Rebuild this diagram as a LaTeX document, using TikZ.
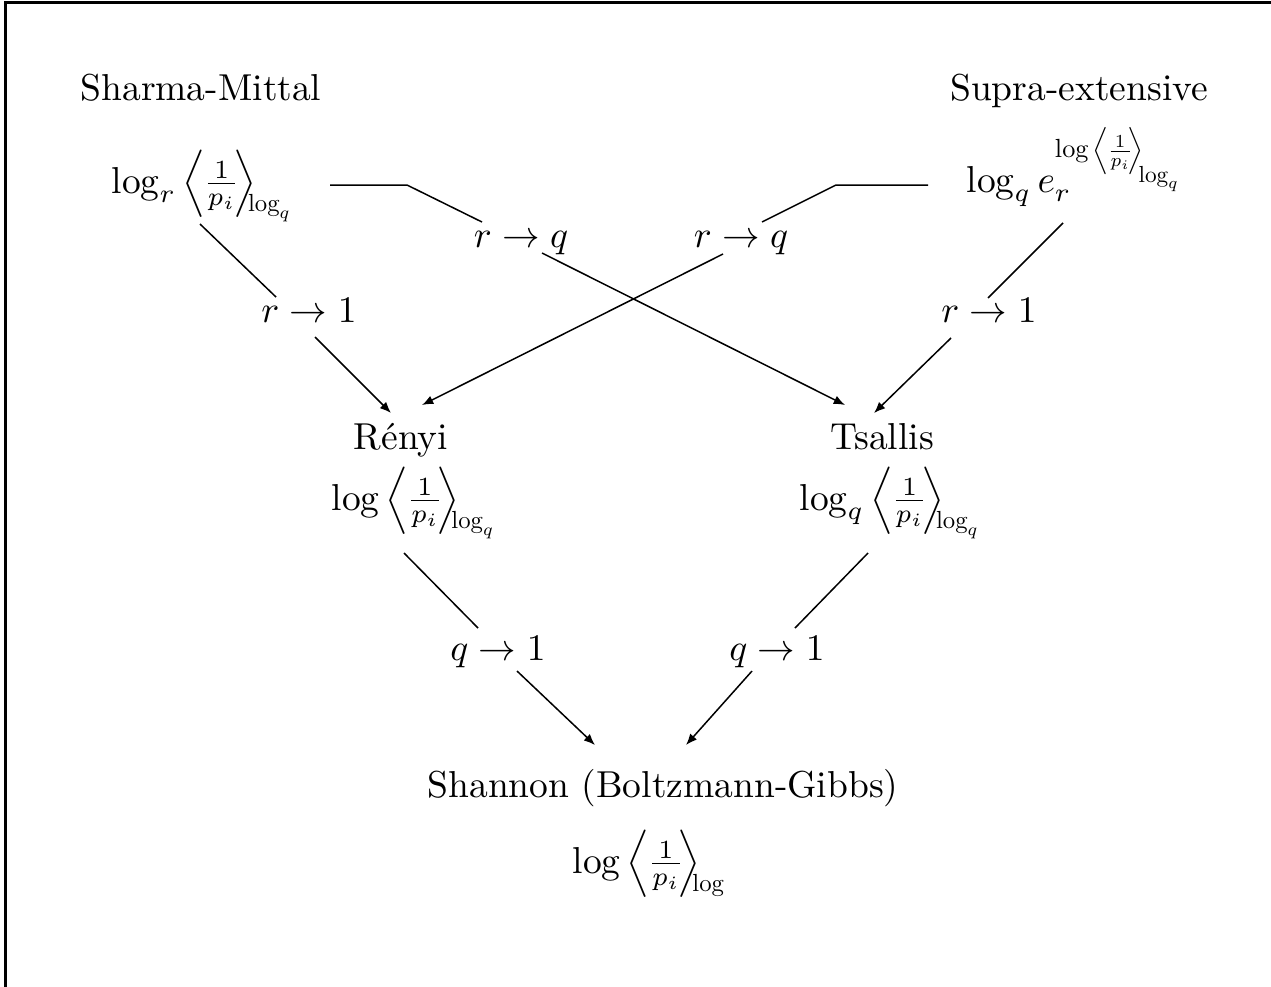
\documentclass[tikz,border=0pt]{standalone}
\usepackage{fontspec}
\usepackage{graphicx}
\usetikzlibrary{arrows.meta}
\newcommand{\frc}{\frac{1}{p_i}}
\newcommand{\avgT}[1]{\left\langle\mkern-1mu \frc \mkern-3mu\right\rangle\mkern-7mu\lower5pt\hbox{\scalebox{0.66}{$#1$}}}
\newcommand{\supx}{\scalebox{0.7}{$\log\left\langle\mkern-1mu\frc\mkern-4mu\right\rangle$}\kern-1.2pt\lower6.5pt\hbox{\scalebox{0.62}{$\log_q$}}}
\begin{document}
\begin{tikzpicture}[x=0.26667pt,y=-0.26667pt,
  txt/.style={anchor=base,inner sep=0pt},
  fml/.style={anchor=base west,inner sep=0pt},
  conn/.style={line width=0.4pt},
  arr/.style={conn,-{Latex[length=3pt,width=2.4pt]}},
  frameline/.style={line width=0.75pt}]
\useasboundingbox (0,0) rectangle (1271,986);
% frame (top and left edges)
\coordinate (fbl) at (5.3,990);
\coordinate (ftl) at (5.3,2.3);
\coordinate (ftr) at (1275,2.3);
\draw[frameline] (fbl) -- (ftl) -- (ftr);

% entropy names
\node[txt] (smt) at (201,100) {Sharma-Mittal};
\node[txt] (spt) at (1079,100) {Supra-extensive};
\node[txt] (rnt) at (401,449) {Rényi};
\node[txt] (tst) at (882,449) {Tsallis};
\node[txt] (sht) at (663,797) {Shannon (Boltzmann-Gibbs)};

% formulas
\node[fml] (smf) at (111,193) {$\log_r \avgT{\log_q}$};
\node[fml] (spf) at (966,192) {$\log_q e_r^{\smash{\raisebox{5.5pt}{\supx}}}$};
\node[fml] (rnf) at (331,510) {$\log \avgT{\log_q}$};
\node[fml] (tsf) at (799,510) {$\log_q \avgT{\log_q}$};
\node[fml] (shf) at (572,873) {$\log \avgT{\log}$};

% limit labels
\node[txt] (lrq) at (521,247) {$r \to q$};
\node[txt] (rrq) at (741,247) {$r \to q$};
\node[txt] (lr1) at (309,322) {$r \to 1$};
\node[txt] (rr1) at (989,322) {$r \to 1$};
\node[txt] (lq1) at (498,660) {$q \to 1$};
\node[txt] (rq1) at (777,660) {$q \to 1$};

% connector end points
\coordinate (a1) at (200,224); \coordinate (a2) at (276,297);
\coordinate (a3) at (315,337); \coordinate (a4) at (391,413);
\coordinate (b1) at (330,185); \coordinate (b2) at (407,185); \coordinate (b3) at (482,222);
\coordinate (b4) at (542,253); \coordinate (b5) at (845,405);
\coordinate (c1) at (928,185); \coordinate (c2) at (836,185); \coordinate (c3) at (762,222);
\coordinate (c4) at (723,254); \coordinate (c5) at (422,405);
\coordinate (d1) at (1063,223); \coordinate (d2) at (988,298);
\coordinate (d3) at (951,338); \coordinate (d4) at (874,413);
\coordinate (e1) at (404,553); \coordinate (e2) at (478,628);
\coordinate (e3) at (517,671); \coordinate (e4) at (595,745);
\coordinate (f1) at (868,553); \coordinate (f2) at (795,628);
\coordinate (f3) at (752,671); \coordinate (f4) at (686,745);

% connectors
\draw[conn] (a1) -- (a2); \draw[arr] (a3) -- (a4);
\draw[conn] (b1) -- (b2) -- (b3); \draw[arr] (b4) -- (b5);
\draw[conn] (c1) -- (c2) -- (c3); \draw[arr] (c4) -- (c5);
\draw[conn] (d1) -- (d2); \draw[arr] (d3) -- (d4);
\draw[conn] (e1) -- (e2); \draw[arr] (e3) -- (e4);
\draw[conn] (f1) -- (f2); \draw[arr] (f3) -- (f4);
\end{tikzpicture}
\end{document}
